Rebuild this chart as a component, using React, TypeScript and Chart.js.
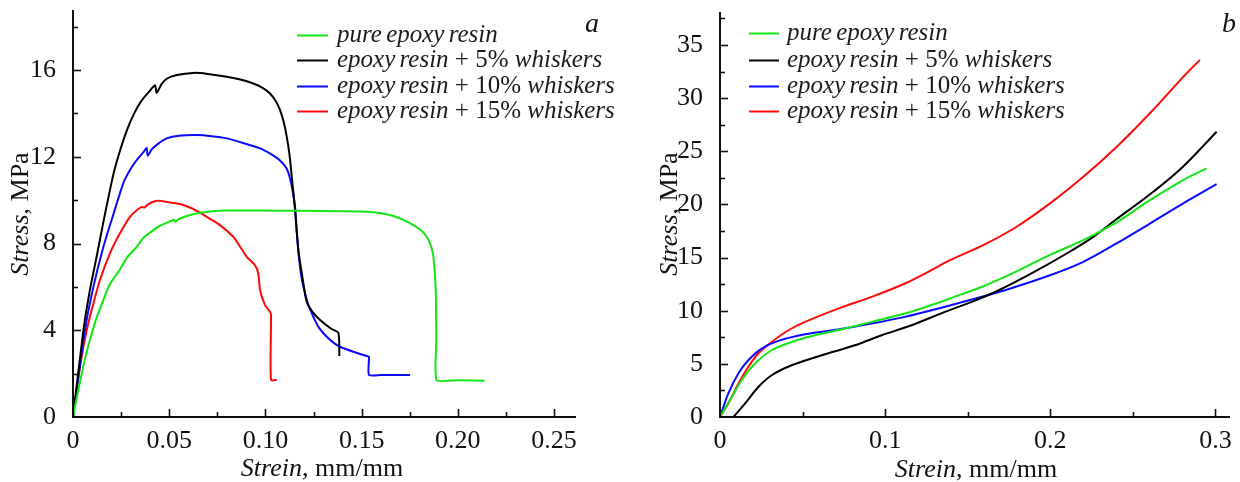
import { useEffect, useRef } from 'react';
import { Chart, registerables } from 'chart.js';

Chart.register(...registerables);

const SERIF = "'Liberation Serif', 'Times New Roman', serif";

// ---- shared series metadata ----
const seriesLabels = [
  'pure epoxy resin',
  'epoxy resin + 5% whiskers',
  'epoxy resin + 10% whiskers',
  'epoxy resin + 15% whiskers',
];
const seriesColors = ['#14e614', '#000000', '#0a0aff', '#ff0a0a'];

// ---- panel a: tensile stress–strain, [strain, stress MPa] ----
const tensilePure: [number, number][] = [
  [0, 0], [0.002, 0.9], [0.0036, 1.6], [0.006, 2.6], [0.0088, 3.55], [0.012, 4.5], [0.0158, 5.4],
  [0.019, 6.1], [0.0244, 6.8], [0.028, 7.35], [0.0331, 7.85], [0.037, 8.3], [0.0418, 8.62],
  [0.0452, 8.82], [0.0504, 9.02], [0.0525, 9.1], [0.0532, 9.0], [0.0548, 9.12], [0.0588, 9.26],
  [0.066, 9.42], [0.0799, 9.52], [0.0972, 9.52], [0.118, 9.51], [0.1388, 9.49], [0.1527, 9.47],
  [0.16, 9.4], [0.1665, 9.27], [0.172, 9.08], [0.1769, 8.85], [0.181, 8.6], [0.1838, 8.31],
  [0.186, 7.9], [0.1873, 7.39], [0.1885, 5.86], [0.1888, 3.5], [0.189, 1.71], [0.2, 1.7], [0.2138, 1.67],
];
const tensile5: [number, number][] = [
  [0, 0], [0.0054, 4.0], [0.0088, 5.86], [0.0123, 7.4], [0.0158, 9.0], [0.021, 11.2], [0.0245, 12.3],
  [0.0279, 13.2], [0.0318, 14.0], [0.0357, 14.6], [0.04, 15.05], [0.0426, 15.3], [0.0435, 14.95],
  [0.046, 15.35], [0.0487, 15.6], [0.0539, 15.77], [0.0625, 15.87], [0.07, 15.82], [0.0799, 15.69],
  [0.0875, 15.55], [0.0937, 15.38], [0.0985, 15.18], [0.1024, 14.92], [0.1055, 14.55], [0.1076, 14.15],
  [0.1095, 13.6], [0.1111, 12.92], [0.1125, 12.1], [0.1137, 11.08], [0.1154, 9.54], [0.1171, 7.7],
  [0.1195, 6.3], [0.1215, 5.3], [0.1245, 4.85], [0.1284, 4.47], [0.134, 4.08], [0.1379, 3.88],
  [0.1384, 3.0], [0.1384, 2.81],
];
const tensile10: [number, number][] = [
  [0, 0], [0.0062, 4.0], [0.0106, 6.0], [0.0158, 7.85], [0.021, 9.35], [0.0262, 10.8], [0.03, 11.45],
  [0.0331, 11.85], [0.0365, 12.2], [0.0383, 12.4], [0.0388, 12.05], [0.041, 12.35], [0.0445, 12.62],
  [0.0487, 12.85], [0.055, 12.97], [0.0643, 13.0], [0.072, 12.95], [0.0799, 12.85], [0.088, 12.65],
  [0.0972, 12.39], [0.1025, 12.15], [0.1059, 11.95], [0.1085, 11.75], [0.1111, 11.45], [0.1128, 11.0],
  [0.1142, 10.4], [0.1154, 9.7], [0.1165, 8.3], [0.118, 6.9], [0.1197, 6.0], [0.1222, 5.2],
  [0.1249, 4.62], [0.128, 4.1], [0.1319, 3.7], [0.1355, 3.42], [0.1388, 3.24], [0.1457, 3.01],
  [0.1527, 2.81], [0.1538, 2.78], [0.1538, 1.94], [0.16, 1.94], [0.168, 1.94], [0.1752, 1.94],
];
const tensile15: [number, number][] = [
  [0, 0], [0.0036, 2.3], [0.0071, 4.0], [0.0106, 5.24], [0.014, 6.32], [0.0192, 7.55], [0.0244, 8.47],
  [0.0296, 9.23], [0.0331, 9.54], [0.0355, 9.68], [0.0372, 9.66], [0.0392, 9.82], [0.0418, 9.93],
  [0.0443, 9.97], [0.049, 9.92], [0.0556, 9.82], [0.061, 9.65], [0.066, 9.42], [0.071, 9.15],
  [0.0764, 8.85], [0.0833, 8.31], [0.0865, 7.9], [0.0903, 7.39], [0.0946, 7.0], [0.0963, 6.62],
  [0.0972, 5.86], [0.0998, 5.16], [0.1024, 4.85], [0.1029, 4.7], [0.1029, 1.71], [0.1059, 1.71],
];

// ---- panel b: compressive stress–strain, [strain, stress MPa] ----
const compressPure: [number, number][] = [
  [0, 0], [0.0071, 1.88], [0.0131, 3.46], [0.0212, 5.03], [0.0313, 6.28], [0.0434, 7.06],
  [0.0575, 7.69], [0.0757, 8.32], [0.0918, 8.95], [0.112, 9.73], [0.1322, 10.75], [0.1392, 11.15],
  [0.1594, 12.3], [0.1796, 13.7], [0.1998, 15.25], [0.22, 16.64], [0.2401, 18.3], [0.2603, 20.4],
  [0.2805, 22.29], [0.2946, 23.39],
];
const compress5: [number, number][] = [
  [0.0081, 0], [0.0151, 1.26], [0.0232, 2.82], [0.0313, 3.93], [0.0434, 4.87], [0.0616, 5.81],
  [0.0817, 6.75], [0.0979, 7.69], [0.116, 8.63], [0.1362, 9.89], [0.1524, 10.83], [0.1685, 11.9],
  [0.1897, 13.6], [0.2099, 15.38], [0.226, 16.95], [0.24, 18.6], [0.26, 20.9], [0.28, 23.5],
  [0.3007, 26.84],
];
const compress10: [number, number][] = [
  [0, 0], [0.005, 2.2], [0.0111, 4.09], [0.0171, 5.34], [0.0252, 6.44], [0.0353, 7.16],
  [0.0515, 7.79], [0.0716, 8.23], [0.0918, 8.79], [0.112, 9.42], [0.1322, 10.2], [0.1524, 11.05],
  [0.1725, 11.93], [0.1998, 13.34], [0.22, 14.6], [0.2401, 16.33], [0.2603, 18.2], [0.2805, 20.1],
  [0.3007, 21.9],
];
const compress15: [number, number][] = [
  [0, 0], [0.005, 1.26], [0.0111, 3.14], [0.0171, 4.71], [0.0232, 5.97], [0.0313, 7.06],
  [0.0414, 8.16], [0.0515, 8.95], [0.0716, 10.2], [0.0918, 11.3], [0.112, 12.56], [0.128, 13.81],
  [0.1392, 14.75], [0.1594, 16.17], [0.1796, 17.9], [0.1998, 20.1], [0.22, 22.6], [0.2401, 25.4],
  [0.2603, 28.57], [0.2805, 32.0], [0.2906, 33.6],
];

// ---- axes ----
const xTicksA = [0, 0.05, 0.1, 0.15, 0.2, 0.25];
const xTickLabelsA = ['0', '0.05', '0.10', '0.15', '0.20', '0.25'];
const yTicksA = [0, 4, 8, 12, 16];
const yTickLabelsA = ['0', '4', '8', '12', '16'];
const xTicksB = [0, 0.1, 0.2, 0.3];
const xTickLabelsB = ['0', '0.1', '0.2', '0.3'];
const yTicksB = [0, 5, 10, 15, 20, 25, 30, 35];
const yTickLabelsB = ['0', '5', '10', '15', '20', '25', '30', '35'];

const xTitle = ['Strein', ', mm/mm'];
const yTitle = ['Stress', ', MPa'];

type Decor = {
  xMinor: number; xMajor: number; yMinor: number; yMajor: number;
  legendLineX: number; legendLineW: number; legendTextX: number; legendY: number[];
  letter: string; letterX: number; letterY: number;
  yTitleX: number; yTitleY: number; xTitleX: number; xTitleY: number;
};

type Part = { t: string; it: boolean };

function mixedWidth(ctx: CanvasRenderingContext2D, parts: Part[], size: number) {
  let w = 0;
  for (const p of parts) {
    ctx.font = `${p.it ? 'italic ' : ''}${size}px ${SERIF}`;
    w += ctx.measureText(p.t).width;
  }
  return w;
}
function drawParts(ctx: CanvasRenderingContext2D, parts: Part[], x: number, y: number, size: number) {
  let cx = x;
  for (const p of parts) {
    ctx.font = `${p.it ? 'italic ' : ''}${size}px ${SERIF}`;
    ctx.fillText(p.t, cx, y);
    cx += ctx.measureText(p.t).width;
  }
}
// words are italic, the "+ N%" part is upright
function legendParts(label: string): Part[] {
  return label
    .split(/(\s\+\s\d+%\s)/)
    .filter((s) => s.length > 0)
    .map((s) => ({ t: s, it: !/\+/.test(s) }));
}

const decorPlugin = {
  id: 'decor',
  afterDraw(chart: any, _args: any, o: Decor) {
    const { ctx, chartArea } = chart;
    const xs = chart.scales.x;
    const ys = chart.scales.y;
    ctx.save();
    ctx.strokeStyle = '#111';
    ctx.fillStyle = '#111';

    // axis lines
    ctx.lineWidth = 2;
    ctx.beginPath();
    ctx.moveTo(chartArea.left, chartArea.top);
    ctx.lineTo(chartArea.left, chartArea.bottom);
    ctx.lineTo(chartArea.right, chartArea.bottom);
    ctx.stroke();

    // inward tick marks
    ctx.lineWidth = 1.6;
    const nx = Math.floor(xs.max / o.xMinor + 1e-6);
    const xr = Math.round(o.xMajor / o.xMinor);
    for (let i = 1; i <= nx; i++) {
      const px = Math.round(xs.getPixelForValue(i * o.xMinor)) + 0.5;
      const len = i % xr === 0 ? 8 : 5;
      ctx.beginPath();
      ctx.moveTo(px, chartArea.bottom);
      ctx.lineTo(px, chartArea.bottom - len);
      ctx.stroke();
    }
    const ny = Math.floor(ys.max / o.yMinor + 1e-6);
    const yr = Math.round(o.yMajor / o.yMinor);
    for (let i = 1; i <= ny; i++) {
      const py = Math.round(ys.getPixelForValue(i * o.yMinor)) + 0.5;
      const len = i % yr === 0 ? 8 : 5;
      ctx.beginPath();
      ctx.moveTo(chartArea.left, py);
      ctx.lineTo(chartArea.left + len, py);
      ctx.stroke();
    }

    // axis titles
    const tsize = 26;
    const xParts = [{ t: xTitle[0], it: true }, { t: xTitle[1], it: false }];
    const yParts = [{ t: yTitle[0], it: true }, { t: yTitle[1], it: false }];
    ctx.textBaseline = 'alphabetic';
    ctx.textAlign = 'left';
    const xw = mixedWidth(ctx, xParts, tsize);
    drawParts(ctx, xParts, o.xTitleX - xw / 2, o.xTitleY, tsize);
    const yw = mixedWidth(ctx, yParts, tsize);
    ctx.save();
    ctx.translate(o.yTitleX, o.yTitleY);
    ctx.rotate(-Math.PI / 2);
    drawParts(ctx, yParts, -yw / 2, 0, tsize);
    ctx.restore();

    // legend
    const lsize = 25;
    (ctx as any).wordSpacing = '-2px';
    chart.data.datasets.forEach((ds: any, i: number) => {
      const y = o.legendY[i];
      ctx.strokeStyle = ds.borderColor;
      ctx.lineWidth = 2;
      ctx.beginPath();
      ctx.moveTo(o.legendLineX, y + 0.5);
      ctx.lineTo(o.legendLineX + o.legendLineW, y + 0.5);
      ctx.stroke();
      ctx.fillStyle = '#1a1a1a';
      drawParts(ctx, legendParts(ds.label), o.legendTextX, y + 7, lsize);
    });
    (ctx as any).wordSpacing = '0px';

    // panel letter
    ctx.fillStyle = '#111';
    ctx.font = `italic 28px ${SERIF}`;
    ctx.fillText(o.letter, o.letterX, o.letterY);
    ctx.restore();
  },
};

function buildDatasets(series: [number, number][][], tension: number) {
  return series.map((pts, i) => ({
    label: seriesLabels[i],
    data: pts.map(([x, y]) => ({ x, y })),
    borderColor: seriesColors[i],
    backgroundColor: seriesColors[i],
    borderWidth: 2,
    pointRadius: 0,
    showLine: true,
    fill: false,
    tension,
  }));
}

type PanelProps = {
  series: [number, number][][];
  tension: number;
  xMax: number; yMax: number;
  xTicks: number[]; xLabels: string[]; yTicks: number[]; yLabels: string[];
  pad: { left: number; top: number; right: number };
  yWidth: number;
  decor: Decor;
  left: number;
};

function Panel(p: PanelProps) {
  const ref = useRef<HTMLCanvasElement | null>(null);
  useEffect(() => {
    if (!ref.current) return;
    const tickFont = { family: SERIF, size: 26 };
    const chart = new Chart(ref.current, {
      type: 'scatter',
      data: { datasets: buildDatasets(p.series, p.tension) as any },
      options: {
        animation: false,
        responsive: false,
        devicePixelRatio: 1,
        layout: { padding: { left: p.pad.left, top: p.pad.top, right: p.pad.right, bottom: 0 } },
        plugins: {
          legend: { display: false },
          tooltip: { enabled: false },
          decor: p.decor as any,
        } as any,
        scales: {
          x: {
            type: 'linear',
            min: 0,
            max: p.xMax,
            grid: { display: false },
            border: { display: false },
            ticks: {
              font: tickFont,
              color: '#111',
              padding: 1,
              autoSkip: false,
              maxRotation: 0,
              callback: (_v: any, i: number) => p.xLabels[i],
            },
            afterBuildTicks: (s: any) => {
              s.ticks = p.xTicks.map((value) => ({ value }));
            },
            afterFit: (s: any) => {
              s.height = 65;
              s.paddingLeft = 0;
              s.paddingRight = 0;
            },
          },
          y: {
            type: 'linear',
            min: 0,
            max: p.yMax,
            grid: { display: false },
            border: { display: false },
            ticks: {
              font: tickFont,
              color: '#111',
              padding: 9,
              autoSkip: false,
              callback: (_v: any, i: number) => p.yLabels[i],
            },
            afterBuildTicks: (s: any) => {
              s.ticks = p.yTicks.map((value) => ({ value }));
            },
            afterFit: (s: any) => {
              s.width = p.yWidth;
              s.paddingTop = 0;
              s.paddingBottom = 0;
            },
          },
        },
      },
      plugins: [decorPlugin as any],
    });
    return () => chart.destroy();
  }, []);
  return (
    <canvas
      ref={ref}
      width={620}
      height={482}
      style={{ position: 'absolute', left: p.left, top: 0, width: 620, height: 482 }}
    />
  );
}

export default function App() {
  return (
    <div
      style={{
        position: 'fixed',
        left: 0,
        top: 0,
        width: 1240,
        height: 482,
        background: '#ffffff',
        overflow: 'hidden',
      }}
    >
      <Panel
        left={0}
        series={[tensilePure, tensile5, tensile10, tensile15]}
        tension={0.2}
        xMax={0.2614}
        yMax={18.77}
        xTicks={xTicksA}
        xLabels={xTickLabelsA}
        yTicks={yTicksA}
        yLabels={yTickLabelsA}
        pad={{ left: 0, top: 10, right: 44 }}
        yWidth={73}
        decor={{
          xMinor: 0.025, xMajor: 0.05, yMinor: 2, yMajor: 4,
          legendLineX: 297, legendLineW: 31, legendTextX: 337, legendY: [35, 60, 86, 111],
          letter: 'a', letterX: 585, letterY: 32,
          yTitleX: 28, yTitleY: 214, xTitleX: 322, xTitleY: 476,
        }}
      />
      <Panel
        left={620}
        series={[compressPure, compress5, compress10, compress15]}
        tension={0.3}
        xMax={0.3088}
        yMax={38.1}
        xTicks={xTicksB}
        xLabels={xTickLabelsB}
        yTicks={yTicksB}
        yLabels={yTickLabelsB}
        pad={{ left: 0, top: 12, right: 10 }}
        yWidth={100}
        decor={{
          xMinor: 0.05, xMajor: 0.1, yMinor: 2.5, yMajor: 5,
          legendLineX: 129, legendLineW: 30, legendTextX: 167, legendY: [33, 60, 86, 111],
          letter: 'b', letterX: 602, letterY: 32,
          yTitleX: 57, yTitleY: 214, xTitleX: 356, xTitleY: 477,
        }}
      />
    </div>
  );
}
